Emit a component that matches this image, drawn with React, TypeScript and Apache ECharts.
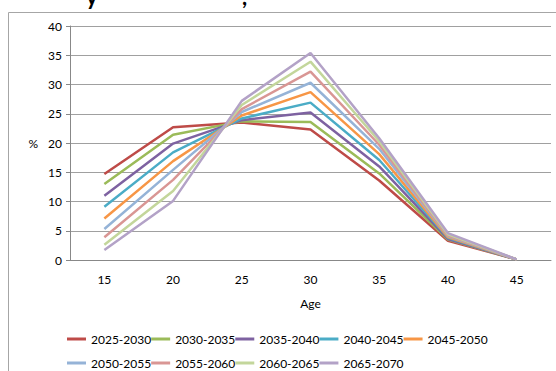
import React, { useEffect, useRef } from "react";
import * as echarts from "echarts";

const ages = ["15", "20", "25", "30", "35", "40", "45"];
const periods = ["2025-2030", "2030-2035", "2035-2040", "2040-2045", "2045-2050", "2050-2055", "2055-2060", "2060-2065", "2065-2070"];
const colors = ["#BE4B48", "#9BBB59", "#7E62A1", "#4BACC6", "#F79646", "#95B3D7", "#D99694", "#C3D69B", "#B3A2C7"];

const s2025 = [14.7, 22.7, 23.5, 22.3, 13.6, 3.3, 0.1];
const s2030 = [13.0, 21.4, 23.7, 23.6, 14.8, 3.5, 0.1];
const s2035 = [11.0, 19.9, 23.9, 25.2, 16.0, 3.6, 0.1];
const s2040 = [9.1, 18.4, 24.2, 26.9, 17.1, 3.8, 0.1];
const s2045 = [7.1, 16.9, 24.7, 28.7, 18.1, 3.9, 0.1];
const s2050 = [5.3, 15.4, 25.3, 30.3, 19.0, 4.1, 0.1];
const s2055 = [3.9, 13.7, 25.8, 32.2, 19.7, 4.2, 0.1];
const s2060 = [2.6, 11.8, 26.5, 33.9, 20.3, 4.4, 0.1];
const s2065 = [1.7, 10.1, 27.2, 35.4, 20.8, 4.6, 0.1];
const allSeries = [s2025, s2030, s2035, s2040, s2045, s2050, s2055, s2060, s2065];

const FONT = "Lato, 'Liberation Sans', sans-serif";

export default function App() {
  const ref = useRef<HTMLDivElement>(null);
  useEffect(() => {
    if (!ref.current) return;
    const chart = echarts.init(ref.current, null, { renderer: "svg" });
    const legendCommon = {
      icon: "rect",
      itemWidth: 19,
      itemHeight: 3,
      itemGap: 0,
      textStyle: { fontFamily: FONT, fontSize: 12, color: "#000" },
      orient: "horizontal" as const,
    };
    chart.setOption({
      animation: false,
      textStyle: { fontFamily: FONT },
      color: colors,
      graphic: [
        { type: "rect", shape: { x: 8.5, y: 12.5, width: 600, height: 400 }, style: { fill: "none", stroke: "#A6A6A6", lineWidth: 1 } },
        { type: "text", x: 86, y: -15, style: { text: "y", font: "bold 22px " + FONT, fill: "#000" } },
        { type: "text", x: 242, y: -15, style: { text: ",", font: "bold 22px " + FONT, fill: "#000" } },
      ],
      legend: [
        { ...legendCommon, left: 62, top: 328, data: periods.slice(0, 5) },
        { ...legendCommon, left: 62, top: 352, data: periods.slice(5) },
      ],
      grid: { left: 70, right: 5, top: 26, bottom: 111 },
      xAxis: {
        type: "category",
        data: ages,
        boundaryGap: true,
        name: "Age",
        nameLocation: "middle",
        nameGap: 37,
        nameTextStyle: { fontFamily: FONT, fontSize: 12, color: "#000" },
        axisLine: { lineStyle: { color: "#888", width: 1 } },
        axisTick: { length: 5, lineStyle: { color: "#888" } },
        axisLabel: { fontFamily: FONT, fontSize: 12, color: "#000", margin: 13 },
        splitLine: { show: false },
      },
      yAxis: {
        type: "value",
        min: 0,
        max: 40,
        interval: 5,
        name: "%",
        nameLocation: "middle",
        nameGap: 32,
        nameRotate: 0,
        nameTextStyle: { fontFamily: FONT, fontSize: 12, color: "#000" },
        axisLine: { show: true, lineStyle: { color: "#888", width: 1 } },
        axisTick: { show: true, length: 4, lineStyle: { color: "#888" } },
        axisLabel: { fontFamily: FONT, fontSize: 12, color: "#000", margin: 8 },
        splitLine: { lineStyle: { color: "#A0A0A0", width: 1 } },
      },
      series: periods.map((p, i) => ({
        name: p,
        type: "line",
        data: allSeries[i],
        symbol: "none",
        lineStyle: { width: 2.5, color: colors[i] },
        itemStyle: { color: colors[i] },
      })),
    });
    return () => chart.dispose();
  }, []);
  return <div ref={ref} style={{ width: 556, height: 371, position: "absolute", left: 0, top: 0 }} />;
}
